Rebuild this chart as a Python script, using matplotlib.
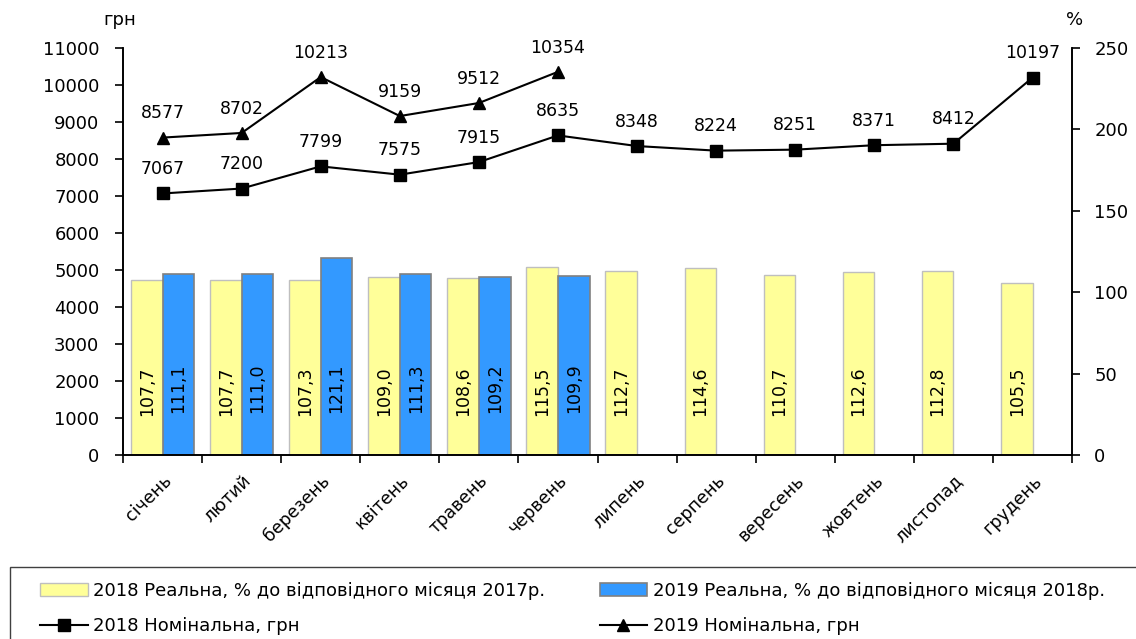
import matplotlib
matplotlib.use("Agg")
import matplotlib.pyplot as plt
from matplotlib.patches import Rectangle
import numpy as np

plt.rcParams['font.family'] = ['DejaVu Sans']

months = ["січень", "лютий", "березень", "квітень", "травень", "червень",
          "липень", "серпень", "вересень", "жовтень", "листопад", "грудень"]
real2018 = [107.7, 107.7, 107.3, 109.0, 108.6, 115.5, 112.7, 114.6, 110.7, 112.6, 112.8, 105.5]
real2019 = [111.1, 111.0, 121.1, 111.3, 109.2, 109.9]
nom2018 = [7067, 7200, 7799, 7575, 7915, 8635, 8348, 8224, 8251, 8371, 8412, 10197]
nom2019 = [8577, 8702, 10213, 9159, 9512, 10354]

lbl_r18 = "2018 Реальна, % до відповідного місяця 2017р."
lbl_r19 = "2019 Реальна, % до відповідного місяця 2018р."
lbl_n18 = "2018 Номінальна, грн"
lbl_n19 = "2019 Номінальна, грн"

fig = plt.figure(figsize=(11.36, 6.39), dpi=100)
ax = fig.add_axes([0.1083, 0.288, 0.8354, 0.637])
ax2 = ax.twinx()

x = np.arange(len(months))
w = 0.4
b18 = ax2.bar(x[:len(real2018)] - w/2, real2018, w, color="#FFFF99", edgecolor="#BFBFBF", linewidth=1, label=lbl_r18)
b19 = ax2.bar(x[:len(real2019)] + w/2, real2019, w, color="#3399FF", edgecolor="#808080", linewidth=1.2, label=lbl_r19)
for xi, v in zip(x, real2018):
    ax2.text(xi - w/2, 24, f"{v:.1f}".replace(".", ","), rotation=90, ha="center", va="bottom", fontsize=12.5)
for xi, v in zip(x, real2019):
    ax2.text(xi + w/2, 26, f"{v:.1f}".replace(".", ","), rotation=90, ha="center", va="bottom", fontsize=12.5)

# lines on the left axis, drawn above the bars
ax.set_zorder(ax2.get_zorder() + 1)
ax.patch.set_visible(False)
l18, = ax.plot(x, nom2018, color="black", marker="s", markersize=8, linewidth=1.5, label=lbl_n18)
l19, = ax.plot(x[:len(nom2019)], nom2019, color="black", marker="^", markersize=9, linewidth=1.5, label=lbl_n19)
for xi, v in zip(x, nom2018):
    ax.annotate(str(v), (xi, v), xytext=(0, 11), textcoords="offset points", ha="center", va="bottom", fontsize=12.5)
for xi, v in zip(x, nom2019):
    ax.annotate(str(v), (xi, v), xytext=(0, 11), textcoords="offset points", ha="center", va="bottom", fontsize=12.5)

ax.set_xlim(-0.5, 11.5)
ax.set_ylim(0, 11000)
ax.set_yticks(range(0, 11001, 1000))
ax2.set_ylim(0, 250)
ax2.set_yticks(range(0, 251, 50))

ax.set_xticks(x)
ax.set_xticklabels(months, rotation=45, ha="right", rotation_mode="anchor", fontsize=12.5)
ax.set_xticks(np.arange(-0.5, 12, 1), minor=True)
ax.tick_params(axis="x", which="major", length=0, pad=12)
ax.tick_params(axis="x", which="minor", length=6, width=1.2)
ax.tick_params(axis="y", length=6, width=1.2, labelsize=13, pad=11)
ax2.tick_params(axis="y", length=6, width=1.2, labelsize=13, pad=10)

for a in (ax, ax2):
    a.spines["top"].set_visible(False)
    for s in ("left", "right", "bottom"):
        a.spines[s].set_linewidth(1.2)

fig.text(0.105, 0.969, "грн", ha="center", va="center", fontsize=13)
fig.text(0.946, 0.969, "%", ha="center", va="center", fontsize=13)

# legend box
fig.patches.append(Rectangle((10/1136, -0.02), 1.0, 0.02 + 1 - 567/639, transform=fig.transFigure,
                             fill=False, edgecolor="#404040", linewidth=1.0))
leg = fig.legend([b18, l18, b19, l19], [lbl_r18, lbl_n18, lbl_r19, lbl_n19],
                 ncol=2, loc="upper left", bbox_to_anchor=(40/1136, 1 - 582/639),
                 frameon=False, fontsize=13,
                 handlelength=2.65, handleheight=0.7, columnspacing=3.0,
                 labelspacing=0.95, borderpad=0, borderaxespad=0, handletextpad=0.3)

fig.savefig("out.png", dpi=100)
